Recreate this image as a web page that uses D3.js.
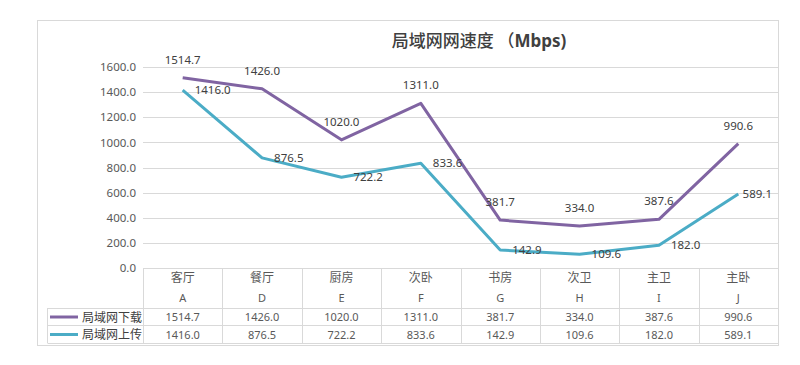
<!DOCTYPE html>
<html>
<head>
<meta charset="utf-8">
<script src="https://cdn.jsdelivr.net/npm/d3@7"></script>
<style>
  body { margin: 0; background: #fff; }
  svg text { font-family: "Noto Sans", "Noto Sans CJK SC", sans-serif; }
</style>
</head>
<body>
<div id="chart"></div>
<script>
// data
var rooms = ["客厅", "餐厅", "厨房", "次卧", "书房", "次卫", "主卫", "主卧"];
var codes = ["A", "D", "E", "F", "G", "H", "I", "J"];
var download = [1514.7, 1426.0, 1020.0, 1311.0, 381.7, 334.0, 387.6, 990.6];
var upload = [1416.0, 876.5, 722.2, 833.6, 142.9, 109.6, 182.0, 589.1];
var seriesNames = ["局域网下载", "局域网上传"];
var yTicks = [0, 200, 400, 600, 800, 1000, 1200, 1400, 1600];

var width = 800, height = 365;
var plotLeft = 143, plotRight = 778, plotTop = 67, plotBottom = 268;
var colors = ["#8064a2", "#4bacc6"];
var fmt = d3.format(".1f");

var svg = d3.select("#chart").append("svg")
  .attr("width", width)
  .attr("height", height);

// chart border
svg.append("rect")
  .attr("x", 37.5).attr("y", 20.5)
  .attr("width", 741).attr("height", 325)
  .style("fill", "none")
  .style("stroke", "#d9d9d9");

// title
var title = svg.append("text")
  .attr("x", 479).attr("y", 47)
  .attr("text-anchor", "middle")
  .style("fill", "#404040");
title.append("tspan")
  .style("font-family", "'Noto Sans CJK SC'")
  .style("font-size", "17px")
  .style("font-weight", 500)
  .text("局域网网速度 （");
title.append("tspan")
  .style("font-size", "17px")
  .style("font-weight", "bold")
  .text("Mbps)");

var x = d3.scaleBand()
  .domain(codes)
  .range([plotLeft, plotRight]);

var y = d3.scaleLinear()
  .domain([0, 1600])
  .range([plotBottom, plotTop]);

// gridlines
svg.selectAll(".grid")
  .data(yTicks.slice(1))
  .enter().append("line")
  .attr("x1", plotLeft).attr("x2", plotRight)
  .attr("y1", function(d) { return Math.round(y(d)) + 0.5; })
  .attr("y2", function(d) { return Math.round(y(d)) + 0.5; })
  .style("stroke", "#d9d9d9");

// y axis labels
var yAxis = svg.append("g")
  .attr("transform", "translate(" + plotLeft + ",0)")
  .call(d3.axisLeft(y).tickValues(yTicks).tickFormat(fmt).tickSize(0).tickPadding(7));
yAxis.select(".domain").remove();
yAxis.selectAll("text")
  .style("font-size", "11.5px")
  .style("fill", "#595959")
  .style("font-family", "'Noto Sans', sans-serif");

// lines
var series = [download, upload];
var line = d3.line()
  .x(function(d, i) { return x(codes[i]) + x.bandwidth() / 2; })
  .y(function(d) { return y(d); });

series.forEach(function(vals, s) {
  svg.append("path")
    .datum(vals)
    .attr("d", line)
    .style("fill", "none")
    .style("stroke", colors[s])
    .style("stroke-width", 3)
    .style("stroke-linejoin", "round");
});

// data labels: download above, upload right
svg.selectAll(".lblDown")
  .data(download)
  .enter().append("text")
  .attr("x", function(d, i) { return x(codes[i]) + x.bandwidth() / 2; })
  .attr("y", function(d) { return y(d) - 14; })
  .attr("text-anchor", "middle")
  .style("font-size", "11.5px")
  .style("fill", "#404040")
  .text(fmt);

svg.selectAll(".lblUp")
  .data(upload)
  .enter().append("text")
  .attr("x", function(d, i) { return x(codes[i]) + x.bandwidth() / 2 + 12; })
  .attr("y", function(d) { return y(d) + 4; })
  .style("font-size", "11.5px")
  .style("fill", "#404040")
  .text(fmt)
  .each(function() {
    // keep label inside the plot area, like excel does
    var w = this.getComputedTextLength();
    var lx = +d3.select(this).attr("x");
    if (lx + w > plotRight - 6) d3.select(this).attr("x", plotRight - 6 - w);
  });

// data table
var tableLeft = 47.5;
var rowTops = [plotBottom, 308, 325, 343];
var gridColor = "#d9d9d9";

// horizontal table lines
svg.append("line")
  .attr("x1", plotLeft).attr("x2", plotRight)
  .attr("y1", plotBottom + 0.5).attr("y2", plotBottom + 0.5)
  .style("stroke", gridColor);
rowTops.slice(1).forEach(function(t) {
  svg.append("line")
    .attr("x1", tableLeft).attr("x2", plotRight)
    .attr("y1", t + 0.5).attr("y2", t + 0.5)
    .style("stroke", gridColor);
});

// vertical table lines
var edges = codes.map(function(c) { return x(c); }).concat([plotRight]);
svg.selectAll(".vline")
  .data(edges)
  .enter().append("line")
  .attr("x1", function(d) { return Math.round(d) + 0.5; })
  .attr("x2", function(d) { return Math.round(d) + 0.5; })
  .attr("y1", plotBottom).attr("y2", rowTops[3])
  .style("stroke", gridColor);
svg.append("line")
  .attr("x1", tableLeft).attr("x2", tableLeft)
  .attr("y1", rowTops[1]).attr("y2", rowTops[3])
  .style("stroke", gridColor);

// category header
svg.selectAll(".room")
  .data(rooms)
  .enter().append("text")
  .attr("x", function(d, i) { return x(codes[i]) + x.bandwidth() / 2; })
  .attr("y", 282)
  .attr("text-anchor", "middle")
  .style("font-family", "'Noto Sans CJK SC'")
  .style("font-size", "12px")
  .style("fill", "#595959")
  .text(function(d) { return d; });

svg.selectAll(".code")
  .data(codes)
  .enter().append("text")
  .attr("x", function(d) { return x(d) + x.bandwidth() / 2; })
  .attr("y", 302)
  .attr("text-anchor", "middle")
  .style("font-size", "11px")
  .style("fill", "#595959")
  .text(function(d) { return d; });

// value rows + legend
series.forEach(function(vals, s) {
  var cy = (rowTops[s + 1] + rowTops[s + 2]) / 2;
  svg.append("line")
    .attr("x1", 50).attr("x2", 78)
    .attr("y1", cy + 0.5).attr("y2", cy + 0.5)
    .style("stroke", colors[s])
    .style("stroke-width", 3);
  svg.append("text")
    .attr("x", 82).attr("y", cy + 5)
    .style("font-family", "'Noto Sans CJK SC'")
    .style("font-size", "12px")
    .style("fill", "#404040")
    .text(seriesNames[s]);
  svg.selectAll(".val" + s)
    .data(vals)
    .enter().append("text")
    .attr("x", function(d, i) { return x(codes[i]) + x.bandwidth() / 2; })
    .attr("y", cy + 4.5)
    .attr("text-anchor", "middle")
    .style("font-size", "11px")
    .style("fill", "#595959")
    .text(fmt);
});
</script>
</body>
</html>
